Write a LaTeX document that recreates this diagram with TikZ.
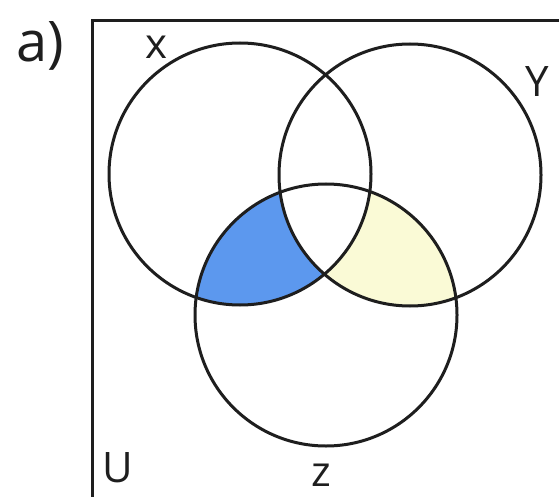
\documentclass[tikz,border=0pt]{standalone}
\usepackage{fontspec}
\setmainfont{Open Sans}
\definecolor{blueset}{RGB}{92,152,238}
\definecolor{yellowset}{RGB}{250,250,214}
\definecolor{inkc}{RGB}{30,30,30}
\tikzset{
  setcircle/.style={circle, draw=inkc, line width=3pt, minimum size=262pt, inner sep=0pt},
  setlabel/.style={text=inkc, font=\fontsize{42}{42}\selectfont, inner sep=0pt},
}
\begin{document}
\begin{tikzpicture}[x=1pt,y=-1pt]
\useasboundingbox (0,0) rectangle (559,497);
\fill[white] (0,0) rectangle (559,497);
\clip (0,0) rectangle (559,497);
\coordinate (cx) at (240,174);
\coordinate (cy) at (410,175);
\coordinate (cz) at (326,315);
% shaded regions
\begin{scope}
  \clip (cx) circle (131);
  \fill[blueset] (cz) circle (131);
\end{scope}
\begin{scope}
  \clip (cy) circle (131);
  \fill[yellowset] (cz) circle (131);
\end{scope}
\begin{scope}
  \clip (cx) circle (131);
  \clip (cy) circle (131);
  \fill[white] (cz) circle (131);
\end{scope}
% universe
\draw[inkc, line width=3pt] (92,21) rectangle (600,540);
% circles
\node[setcircle] (X) at (cx) {};
\node[setcircle] (Y) at (cy) {};
\node[setcircle] (Z) at (cz) {};
% labels
\node[text=inkc, font=\fontsize{56}{56}\selectfont, inner sep=0pt] (a) at (40,46) {a)};
\node[setlabel] (lx) at (157,47) {x};
\node[setlabel] (ly) at (537,82) {Y};
\node[setlabel] (lu) at (118,468) {U};
\node[setlabel] (lz) at (321,475) {z};
\end{tikzpicture}
\end{document}
